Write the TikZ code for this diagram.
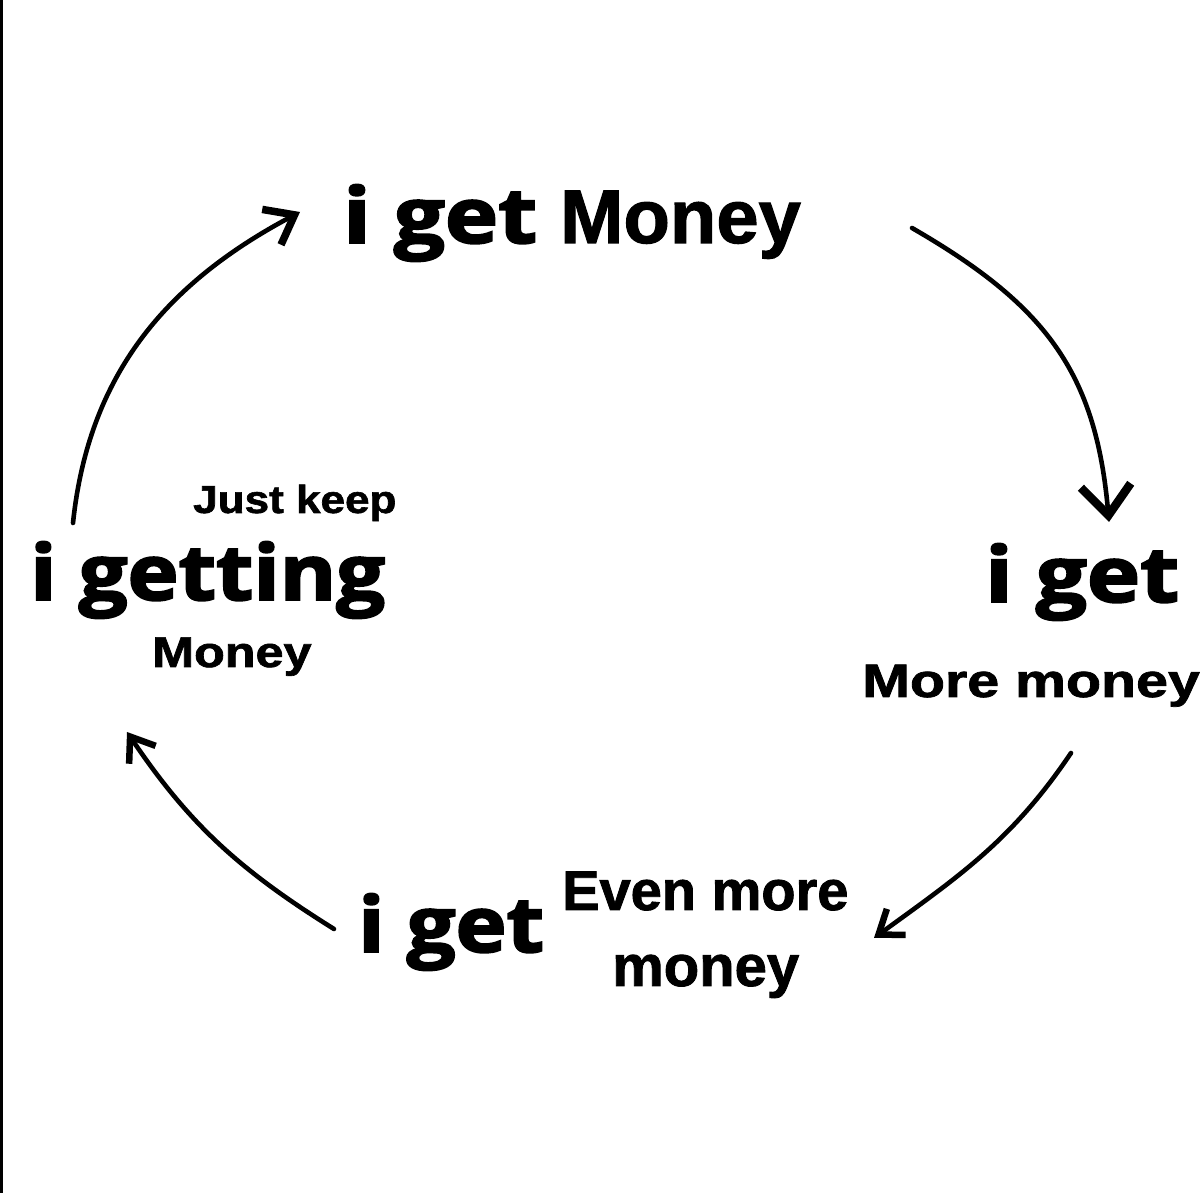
\documentclass[tikz,border=0pt]{standalone}
\usepackage{fontspec}
\usetikzlibrary{arrows.meta}
\newfontfamily\igfont{Open Sans}[FakeBold=2.5]
\newfontfamily\labfont{Liberation Sans}[FakeBold=1.5]
\tikzset{
  x=1pt, y=1pt,
  bigtxt/.style={inner sep=0pt, anchor=base west, font=\igfont\bfseries\fontsize{77}{77}\selectfont},
  labtxt/.style={inner sep=0pt, anchor=base west},
  cyc/.style={line width=4.6pt, line cap=round, black},
  headA/.style={-{Straight Barb[length=26pt, width=40pt, line width=7.5pt]}},
  headB/.style={-{Straight Barb[length=30pt, width=50pt, line width=8.5pt]}},
  headC/.style={-{Straight Barb[length=22pt, width=32pt, line width=6.5pt]}},
}
\newcommand{\labsize}[1]{\labfont\bfseries\fontsize{#1}{#1}\selectfont}
\begin{document}
\begin{tikzpicture}
  \fill[white] (0,0) rectangle (1200,1193);
  \useasboundingbox (0,0) rectangle (1200,1193);
  \fill[black] (0,0) rectangle (3,1193);

  % texts
  \node[bigtxt] (topi) at (343,950) {\scalebox{1.17}[1]{i get}};
  \node[labtxt, font=\labsize{76}] (topm) at (560,950) {Money};
  \node[labtxt, font=\labsize{39}] (keep) at (193,680) {\scalebox{1.13}[1]{Just keep}};
  \node[bigtxt] (getting) at (30,593) {\scalebox{1.12}[1]{i getting}};
  \node[labtxt, font=\labsize{43}] (leftm) at (152,526) {\scalebox{1.17}[1]{Money}};
  \node[bigtxt] (righti) at (985,591) {\scalebox{1.17}[1]{i get}};
  \node[labtxt, font=\labsize{47}] (rightm) at (862,496) {\scalebox{1.22}[1]{More money}};
  \node[bigtxt] (boti) at (358,241) {\scalebox{1.12}[1]{i get}};
  \node[labtxt, font=\labsize{56}] (even) at (562,283) {Even more};
  \node[labtxt, font=\labsize{58}] (botm) at (612,207) {money};

  % arrow end points
  \coordinate (a1s) at (73,670);   \coordinate (a1e) at (300,981);
  \coordinate (a2s) at (912,965);  \coordinate (a2e) at (1109,671);
  \coordinate (a3s) at (1071,440); \coordinate (a3e) at (874,255);
  \coordinate (a4s) at (334,264);  \coordinate (a4e) at (127,461);

  \draw[cyc, headA] (a1s) to[out=84, in=208] (a1e);
  \draw[cyc, headB] (a2s) to[out=-30, in=95, looseness=1.1] (a2e);
  \draw[cyc, headC] (a3s) to[out=236, in=36] (a3e);
  \draw[cyc, headC] (a4s) to[out=148, in=-56] (a4e);
\end{tikzpicture}
\end{document}
